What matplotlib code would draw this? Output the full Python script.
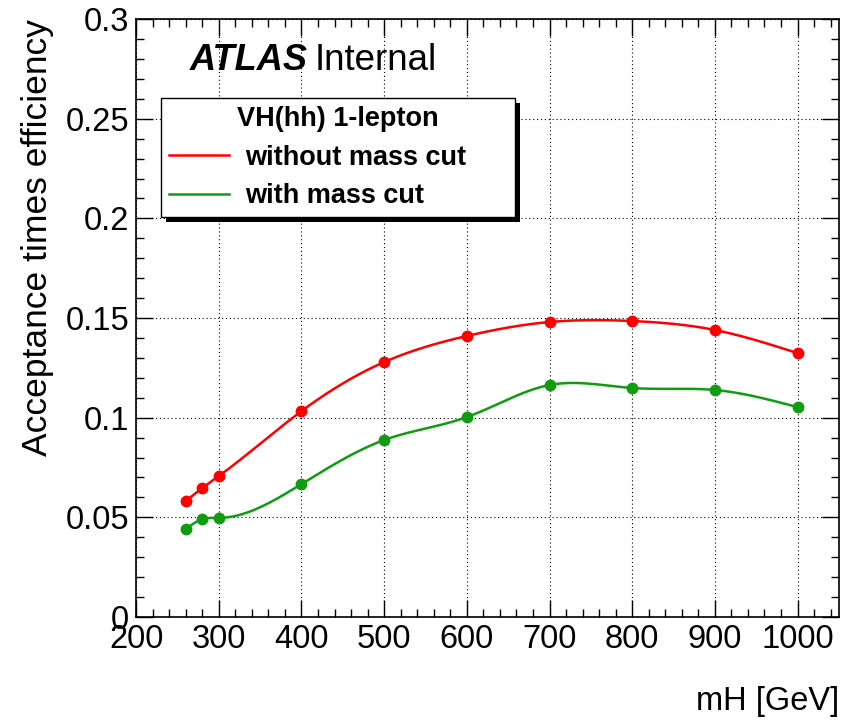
import numpy as np
import matplotlib
matplotlib.use("Agg")
import matplotlib.pyplot as plt
from matplotlib.ticker import MultipleLocator, FuncFormatter
from matplotlib.patches import Rectangle
from matplotlib.transforms import IdentityTransform

# valeurs
masses = [260, 280, 300, 400, 500, 600, 700, 800, 900, 1000]
eff_sans_coupure = [0.0582, 0.0647, 0.0707, 0.1033, 0.1279, 0.1410, 0.1480, 0.1485, 0.1440, 0.1324]
eff_avec_coupure = [0.0441, 0.0491, 0.0497, 0.0667, 0.0888, 0.1003, 0.1164, 0.1149, 0.1139, 0.1053]
labels = ["without mass cut", "with mass cut"]
couleurs = ["#ff0000", "#109c10"]

plt.rcParams['font.family'] = ['Liberation Sans', 'DejaVu Sans']


def spline_naturelle(x, y, n=400):
    """Spline cubique naturelle (comme l'option 'C' de ROOT, à peu près)."""
    x = np.asarray(x, float)
    y = np.asarray(y, float)
    k = len(x)
    h = np.diff(x)
    A = np.zeros((k, k))
    b = np.zeros(k)
    A[0, 0] = A[-1, -1] = 1
    for i in range(1, k - 1):
        A[i, i - 1] = h[i - 1]
        A[i, i] = 2 * (h[i - 1] + h[i])
        A[i, i + 1] = h[i]
        b[i] = 6 * ((y[i + 1] - y[i]) / h[i] - (y[i] - y[i - 1]) / h[i - 1])
    M = np.linalg.solve(A, b)
    xs = np.linspace(x[0], x[-1], n)
    idx = np.clip(np.searchsorted(x, xs) - 1, 0, k - 2)
    x0, x1 = x[idx], x[idx + 1]
    hh = x1 - x0
    t0 = x1 - xs
    t1 = xs - x0
    ys = (M[idx] * t0**3 + M[idx + 1] * t1**3) / (6 * hh) \
        + (y[idx] / hh - M[idx] * hh / 6) * t0 \
        + (y[idx + 1] / hh - M[idx + 1] * hh / 6) * t1
    return xs, ys


fig = plt.figure(figsize=(8.56, 7.21), dpi=100)
ax = fig.add_axes([0.159, 0.1442, 0.821, 0.8294])

for serie, lab, c in zip([eff_sans_coupure, eff_avec_coupure], labels, couleurs):
    xs, ys = spline_naturelle(masses, serie)
    ax.plot(xs, ys, color=c, lw=1.8, label=lab)
    ax.plot(masses, serie, 'o', color=c, ms=7.5, mec=c)

ax.set_xlim(200, 1050)
ax.set_ylim(0, 0.3)
ax.xaxis.set_major_locator(MultipleLocator(100))
ax.xaxis.set_minor_locator(MultipleLocator(20))
ax.yaxis.set_major_locator(MultipleLocator(0.05))
ax.yaxis.set_minor_locator(MultipleLocator(0.01))
ax.yaxis.set_major_formatter(FuncFormatter(lambda v, p: f"{v:g}"))
ax.tick_params(which='both', direction='in', top=True, right=True, labelsize=23.5, width=1)
ax.tick_params(which='major', length=12, pad=5)
ax.tick_params(which='minor', length=6)
ax.grid(True, which='major', color='black', ls=(0, (1, 2.5)), lw=0.8)
for s in ax.spines.values():
    s.set_linewidth(1.2)

ax.set_xlabel("mH [GeV]", fontsize=23.5, loc='right', labelpad=22)
ax.set_ylabel("Acceptance times efficiency", fontsize=25.5, loc='top', labelpad=8)

ax.text(0.076, 0.931, "ATLAS", transform=ax.transAxes, fontsize=26,
        fontweight='bold', fontstyle='italic', va='center')
ax.text(0.2546, 0.931, "Internal", transform=ax.transAxes, fontsize=26.5, va='center')

leg = ax.legend(loc='upper left', bbox_to_anchor=(0.0356, 0.6706, 0.503, 0.1974), mode='expand',
                title="VH(hh) 1-lepton", title_fontproperties={'weight': 'bold', 'size': 19.5},
                prop={'weight': 'bold', 'size': 19.5},
                frameon=True, fancybox=False, edgecolor='black', framealpha=1,
                handlelength=2.2, borderaxespad=0, borderpad=0.3,
                labelspacing=0.46, handletextpad=0.6)
leg.get_frame().set_linewidth(1.0)

# ombre noire décalée façon ROOT
fig.canvas.draw()
bb = leg.get_frame().get_window_extent()
ombre = Rectangle((bb.x0 + 5, bb.y0 - 5), bb.width, bb.height, transform=IdentityTransform(),
                  facecolor='black', edgecolor='none', zorder=leg.get_zorder() - 0.1, clip_on=False)
ax.add_patch(ombre)

fig.savefig("out.png", dpi=100)
